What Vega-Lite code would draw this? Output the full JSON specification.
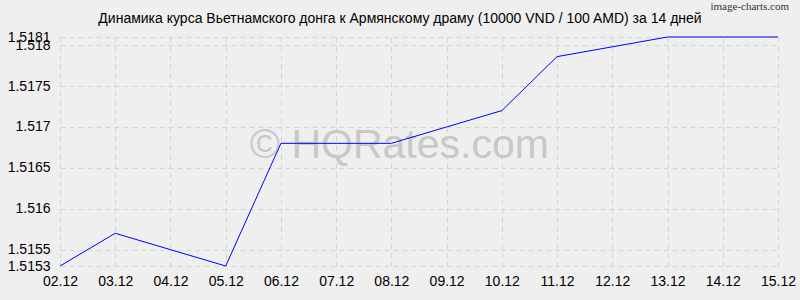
{
  "$schema": "https://vega.github.io/schema/vega-lite/v6.json",
  "width": 718,
  "height": 229,
  "autosize": {"type": "none"},
  "padding": {"left": 60, "top": 37, "right": 22, "bottom": 34},
  "background": "#efefef",
  "config": {
    "view": {"stroke": null, "fill": "#efefef"},
    "font": "Liberation Sans",
    "axis": {
      "domain": false,
      "ticks": false,
      "labelFont": "Liberation Sans",
      "labelFontSize": 14,
      "labelColor": "#000000",
      "labelOverlap": false,
      "gridColor": "#d4d4d4",
      "gridDash": [5, 4],
      "gridWidth": 1,
      "title": null
    }
  },
  "title": {
    "text": "Динамика курса Вьетнамского донга к Армянскому драму (10000 VND / 100 AMD) за 14 дней",
    "fontSize": 14,
    "fontWeight": "normal",
    "font": "Liberation Sans",
    "color": "#000000",
    "anchor": "middle",
    "frame": "group",
    "dx": -19,
    "dy": 35,
    "offset": 10
  },
  "data": {
    "values": [
      {"date": "02.12", "rate": 1.5153},
      {"date": "03.12", "rate": 1.5157},
      {"date": "04.12", "rate": 1.5155},
      {"date": "05.12", "rate": 1.5153},
      {"date": "06.12", "rate": 1.5168},
      {"date": "07.12", "rate": 1.5168},
      {"date": "08.12", "rate": 1.5168},
      {"date": "09.12", "rate": 1.517},
      {"date": "10.12", "rate": 1.5172},
      {"date": "11.12", "rate": 1.51786},
      {"date": "12.12", "rate": 1.51798},
      {"date": "13.12", "rate": 1.5181},
      {"date": "14.12", "rate": 1.5181},
      {"date": "15.12", "rate": 1.5181}
    ]
  },
  "encoding": {
    "x": {
      "field": "date",
      "type": "ordinal",
      "sort": null,
      "scale": {"type": "point", "padding": 0, "domain": ["02.12","03.12","04.12","05.12","06.12","07.12","08.12","09.12","10.12","11.12","12.12","13.12","14.12","15.12"]},
      "axis": {"labelAngle": 0, "labelPadding": 8, "grid": true}
    },
    "y": {
      "field": "rate",
      "type": "quantitative",
      "scale": {"domain": [1.5153, 1.5181], "zero": false, "nice": false},
      "axis": {
        "values": [1.5153, 1.5155, 1.516, 1.5165, 1.517, 1.5175, 1.518, 1.5181],
        "labelExpr": "'' + datum.value",
        "labelPadding": 10,
        "grid": true
      }
    }
  },
  "layer": [
    {
      "transform": [{"filter": "datum.date == '08.12'"}],
      "mark": {"type": "text", "fontSize": 41, "color": "#c8c8c8", "font": "Liberation Sans", "align": "center", "baseline": "middle", "dx": 8, "dy": 3, "text": "© HQRates.com"}
    },
    {
      "mark": {"type": "line", "color": "#0000ff", "strokeWidth": 1}
    },
    {
      "transform": [{"filter": "datum.date == '15.12'"}],
      "mark": {"type": "text", "fontSize": 11, "fontWeight": "normal", "color": "#333333", "font": "Liberation Sans Narrow", "align": "right", "baseline": "middle", "dx": 11, "dy": -30, "text": "image-charts.com"}
    }
  ]
}
